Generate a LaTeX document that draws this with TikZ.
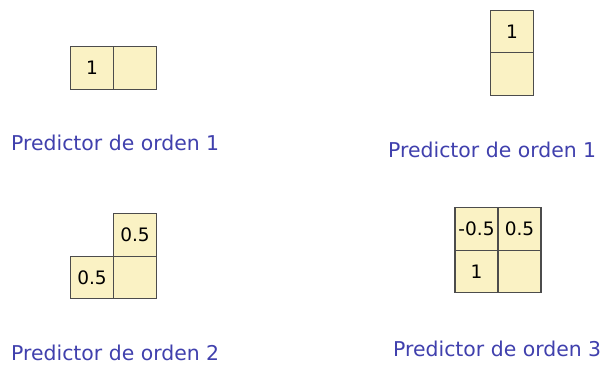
\documentclass[tikz,border=0pt]{standalone}
\usepackage{fontspec}
\setmainfont{DejaVu Sans}
\usetikzlibrary{positioning}
\definecolor{cellfill}{rgb}{0.98,0.95,0.77}
\definecolor{celldraw}{rgb}{0.30,0.30,0.30}
\definecolor{labblue}{rgb}{0.25,0.25,0.68}

\begin{document}
\begin{tikzpicture}[
  x=1pt, y=-1pt,
  cell/.style={rectangle, fill=cellfill, draw=celldraw, line width=1.2pt,
    minimum width=43pt, minimum height=42.5pt, inner sep=0pt, outer sep=0pt,
    font=\fontsize{18.5}{18.5}\selectfont, text=black},
  caption/.style={anchor=base west, inner sep=0pt, text=labblue,
    font=\fontsize{20.4}{21}\selectfont},
  node distance=0pt,
]
\useasboundingbox (0,0) rectangle (605,365);

% ---- order 1, horizontal ----
\node[cell] (a1) at (92,68) {\raisebox{-3pt}{1}};
\node[cell, right=of a1] (a2) {};

% ---- order 1, vertical ----
\node[cell] (b1) at (512,31.5) {\raisebox{-3pt}{1}};
\node[cell, below=of b1] (b2) {};

% ---- order 2 ----
\node[cell] (c2) at (135,235) {0.5};
\node[cell, below=of c2] (c3) {};
\node[cell, left=of c3] (c1) {0.5};

% ---- order 3 ----
\node[cell] (d1) at (476.5,229) {-0.5};
\node[cell, right=of d1] (d2) {0.5};
\node[cell, below=of d1] (d3) {\raisebox{-3pt}{1}};
\node[cell, below=of d2] (d4) {};

% ---- captions ----
\node[caption] (capA) at (11,150) {Predictor de orden 1};
\node[caption] (capB) at (388,157.5) {Predictor de orden 1};
\node[caption] (capC) at (11,360) {Predictor de orden 2};
\node[caption] (capD) at (393,356) {Predictor de orden 3};

\end{tikzpicture}
\end{document}
